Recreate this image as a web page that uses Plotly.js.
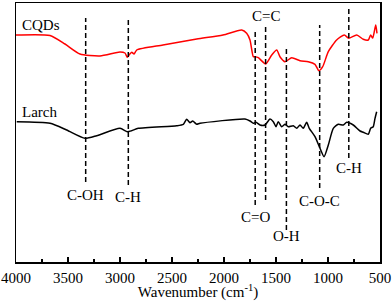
<!DOCTYPE html>
<html>
<head>
<meta charset="utf-8">
<script src="https://cdn.plot.ly/plotly-3.0.1.min.js"></script>
<style>html,body{margin:0;padding:0;background:#fff;}#chart{width:392px;height:301px;}</style>
</head>
<body>
<div id="chart"></div>
<script>
// CQDs spectrum (wavenumber cm-1, offset transmittance a.u.)
var cqdsWn = [4000,3673,3529,3385,3192,3000,2952,2930,2913,2887,2865,2839,2587,2262,2010,1830,1782,1750,1718,1702,1670,1599,1541,1493,1462,1413,1349,1269,1190,1125,1087,1051,997,917,843,801,724,661,613,590,570,541,529];
var cqdsT  = [227,226.5,218,208,206,210,209,204.7,207,209.7,208,212,217,223,227,232,228.7,222,205.3,205.3,204.3,198,207,212,205.3,200.3,204.3,201.3,200.3,197.7,191.3,195.3,210.3,222,227,223.7,227,222.7,222,227,224,237,228.7];
// Larch spectrum
var larchWn = [3993,3673,3513,3337,3224,3000,2930,2888,2824,2455,2391,2359,2327,2301,2263,2231,1798,1750,1718,1692,1654,1606,1558,1526,1500,1478,1445,1413,1382,1334,1301,1269,1238,1205,1180,1125,1077,1038,997,949,901,853,820,757,692,660,613,590,565,548,532];
var larchT  = [140.3,138.7,132,123.7,126.3,133.7,130.3,131.3,133.7,136.3,137.7,142.7,139.3,141,137.7,138.7,143,141,138.7,139.7,137,137,143,140.3,135.3,140.3,135.3,137.7,135.3,136.3,133.7,137,133.7,139.7,133.7,125.3,113.7,105.3,117,133.7,137.7,137,139.7,137,131,129.7,127.7,133.7,135.3,143.7,150.3];
// Band assignments
var bandWn     = [3330, 2920, 1700, 1600, 1400, 1080, 800];
var bandLabels = ["C-OH", "C-H", "C=O", "C=C", "O-H", "C-O-C", "C-H"];
var bandTop    = [244, 242, 230, 235, 214, 237, 253];
var bandBottom = [80, 77, 57, 62, 32, 74, 104];
var bandLabelY = [67, 65, 45, 246, 26, 61, 94];
// Series labels
var seriesNames = ["CQDs", "Larch"];
var seriesLabelY = [237, 150.5];
var tickVals = [4000, 3500, 3000, 2500, 2000, 1500, 1000, 500];

var font = "Liberation Serif";
var traces = [
  {x: cqdsWn, y: cqdsT, type: "scatter", mode: "lines", line: {color: "#ff0000", width: 1.5, shape: "spline", smoothing: 0.6}, name: seriesNames[0], hoverinfo: "skip"},
  {x: larchWn, y: larchT, type: "scatter", mode: "lines", line: {color: "#000000", width: 1.5, shape: "spline", smoothing: 0.6}, name: seriesNames[1], hoverinfo: "skip"}
];

var shapes = bandWn.map(function (w, i) {
  return {type: "line", xref: "x", yref: "y", x0: w, x1: w, y0: bandBottom[i], y1: bandTop[i],
          line: {color: "#000", width: 1.5, dash: "5px,3px"}};
});
var annotations = bandWn.map(function (w, i) {
  return {x: w, y: bandLabelY[i], xref: "x", yref: "y", text: bandLabels[i], showarrow: false,
          xanchor: "center", yanchor: "middle", font: {family: font, size: 15, color: "#000"}};
});
seriesNames.forEach(function (n, i) {
  annotations.push({x: 3965, y: seriesLabelY[i], xref: "x", yref: "y", text: n, showarrow: false,
                    xanchor: "left", yanchor: "middle", font: {family: font, size: 15, color: "#000"}});
});

var layout = {
  width: 392, height: 301,
  margin: {l: 16, r: 12, t: 3, b: 39, pad: 0},
  paper_bgcolor: "#fff", plot_bgcolor: "#fff",
  showlegend: false,
  font: {family: font, size: 15, color: "#000"},
  xaxis: {
    range: [4000, 500], tickvals: tickVals, ticktext: tickVals.map(String),
    ticks: "inside", ticklen: 5, tickwidth: 1.5, tickcolor: "#000",
    ticklabelstandoff: 1,
    minor: {dtick: 250, ticks: "inside", ticklen: 3, tickwidth: 1.5, tickcolor: "#000"},
    showline: true, linecolor: "#000", linewidth: 1.5, mirror: true,
    showgrid: false, zeroline: false,
    tickfont: {family: font, size: 15, color: "#000"},
    title: {text: "Wavenumber (cm<sup>-1</sup>)", font: {family: font, size: 15, color: "#000"}, standoff: 1}
  },
  yaxis: {
    range: [0, 259], showticklabels: false, ticks: "",
    showline: true, linecolor: "#000", linewidth: 1.5, mirror: true,
    showgrid: false, zeroline: false
  },
  shapes: shapes,
  annotations: annotations
};
Plotly.newPlot("chart", traces, layout, {staticPlot: true, displayModeBar: false});
</script>
</body>
</html>
